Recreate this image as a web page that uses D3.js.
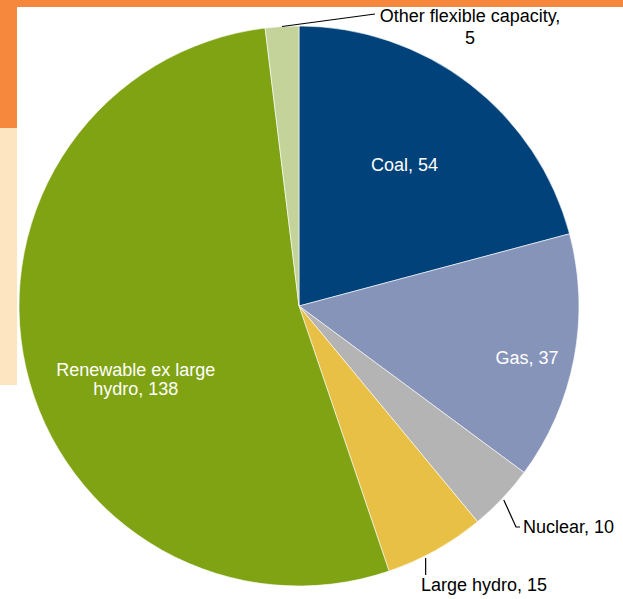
<!DOCTYPE html>
<html>
<head>
<meta charset="utf-8">
<script src="https://cdn.jsdelivr.net/npm/d3@7"></script>
<style>
  html, body { margin: 0; padding: 0; background: #ffffff; }
  svg { display: block; }
  text { font-family: "Liberation Sans", Arial, sans-serif; }
</style>
</head>
<body>
<svg id="chart" width="623" height="599"></svg>
<script>
const categories = ["Coal", "Gas", "Nuclear", "Large hydro", "Renewable ex large hydro", "Other flexible capacity"];
const values = [54, 37, 10, 15, 138, 5];
const colors = ["#004279", "#8794b9", "#b4b4b4", "#e8c046", "#7fa313", "#c3d39a"];
const labelLines = [["Coal, 54"], ["Gas, 37"], ["Nuclear, 10"], ["Large hydro, 15"], ["Renewable ex large", "hydro, 138"], ["Other flexible capacity,", "5"]];

const svg = d3.select("#chart");

// slide background decorations
svg.append("rect").attr("x", 0).attr("y", 0).attr("width", 623).attr("height", 7).attr("fill", "#f5883d");
svg.append("rect").attr("x", 0).attr("y", 0).attr("width", 17).attr("height", 128).attr("fill", "#f5883d");
svg.append("rect").attr("x", 0).attr("y", 128).attr("width", 17).attr("height", 257).attr("fill", "#fde5c2");

const cx = 299, cy = 306, R = 280;
const data = categories.map((c, i) => ({ name: c, value: values[i], color: colors[i], lines: labelLines[i] }));

const pie = d3.pie().value(d => d.value).sort(null);
const arcs = pie(data);
const arc = d3.arc().innerRadius(0).outerRadius(R);

const g = svg.append("g").attr("transform", `translate(${cx},${cy})`);
g.selectAll("path.slice").data(arcs).enter().append("path")
  .attr("class", "slice")
  .attr("d", arc)
  .attr("fill", d => d.data.color)
  .attr("stroke", "#ffffff")
  .attr("stroke-width", 0.6);

// point on circle at angle a (clockwise from top), radius r
const pt = (a, r) => [Math.sin(a) * r, -Math.cos(a) * r];

// internal labels: [index, angle offset fraction within slice, radius fraction]
const inner = [
  { i: 0, t: 0.49, rf: 0.63, dy: 0 },
  { i: 1, t: 0.54, rf: 0.835, dy: 0 },
  { i: 4, t: 0.44, rf: 0.64, dy: 0 }
];
inner.forEach(o => {
  const a = arcs[o.i];
  const ang = a.startAngle + (a.endAngle - a.startAngle) * o.t;
  const [x, y] = pt(ang, R * o.rf);
  const lines = a.data.lines;
  const lh = 19;
  const t = g.append("text")
    .attr("text-anchor", "middle")
    .attr("fill", "#ffffff")
    .attr("font-size", 18);
  lines.forEach((ln, k) => {
    t.append("tspan").attr("x", x).attr("y", y + 6 + (k - (lines.length - 1) / 2) * lh).text(ln);
  });
});

// external labels with leader lines
const lineColor = "#000000";
// Other flexible capacity
{
  const a = arcs[5];
  const ang = (a.startAngle + a.endAngle) / 2;
  const [x0, y0] = pt(ang, R);
  const x1 = 375 - cx, y1 = 14 - cy;
  g.append("path").attr("d", `M${x0},${y0}L${x1},${y1}`).attr("stroke", lineColor).attr("stroke-width", 1.2).attr("fill", "none");
  const t = g.append("text").attr("text-anchor", "middle").attr("fill", "#000").attr("font-size", 18);
  t.append("tspan").attr("x", 470 - cx).attr("y", 22 - cy).text(a.data.lines[0]);
  t.append("tspan").attr("x", 470 - cx).attr("y", 44 - cy).text(a.data.lines[1]);
}
// Nuclear
{
  const a = arcs[2];
  const ang = (a.startAngle + a.endAngle) / 2;
  const [x0, y0] = pt(ang, R + 2);
  const x1 = 516 - cx, y1 = 527 - cy;
  g.append("path").attr("d", `M${x0},${y0}L${x1},${y1}L${x1 + 4},${y1}`).attr("stroke", lineColor).attr("stroke-width", 1.2).attr("fill", "none");
  g.append("text").attr("x", 523 - cx).attr("y", 533 - cy).attr("fill", "#000").attr("font-size", 18).text(a.data.lines[0]);
}
// Large hydro
{
  const a = arcs[3];
  const ang = a.startAngle + (a.endAngle - a.startAngle) * 0.62;
  const [x0, y0] = pt(ang, R + 2);
  g.append("path").attr("d", `M${x0},${y0}L${x0},${575 - cy}`).attr("stroke", lineColor).attr("stroke-width", 1.2).attr("fill", "none");
  g.append("text").attr("x", 421 - cx).attr("y", 591 - cy).attr("fill", "#000").attr("font-size", 18).text(a.data.lines[0]);
}
</script>
</body>
</html>
